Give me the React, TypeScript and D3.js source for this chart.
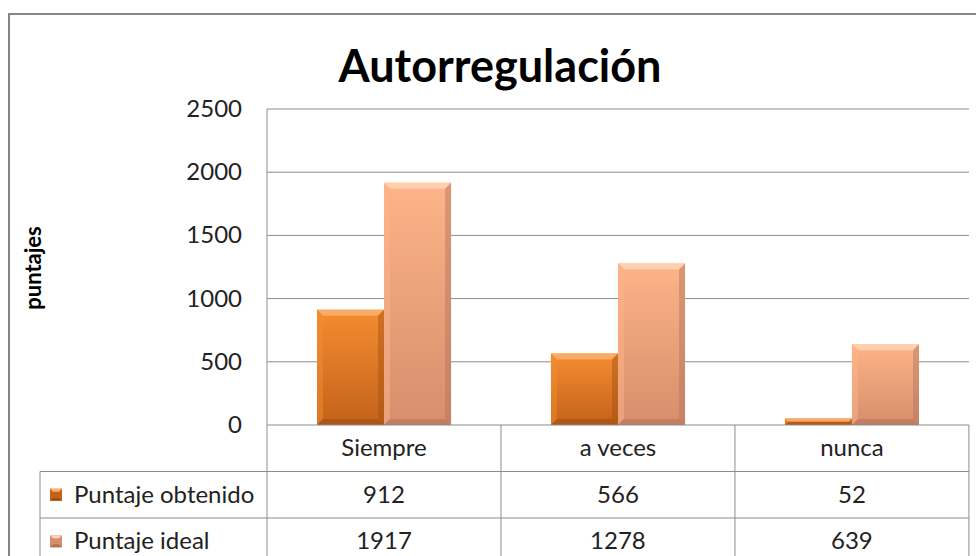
import React from "react";
import * as d3 from "d3";

const categories = ["Siempre", "a veces", "nunca"];
const seriesNames = ["Puntaje obtenido", "Puntaje ideal"];
const obtenido = [912, 566, 52];
const ideal = [1917, 1278, 639];
const yTicks = [0, 500, 1000, 1500, 2000, 2500];

const FONT = "Lato, 'Open Sans', sans-serif";

const palette = [
  { top: "#F48C30", bottom: "#C3621B", light: "#FAB070", dark: "#A24F12" },
  { top: "#FDB488", bottom: "#D68E6C", light: "#FFD3B5", dark: "#B2735A" },
];

const App = () => {
  const width = 976;
  const height = 556;
  const plot = { left: 267, right: 969, top: 109, bottom: 425 };
  const rowH = 46.5;

  const y = d3.scaleLinear().domain([0, 2500]).range([plot.bottom, plot.top]);
  const x = d3
    .scaleBand<string>()
    .domain(categories)
    .range([plot.left, plot.right])
    .paddingInner(0.427)
    .paddingOuter(0.2137);
  const xs = d3.scaleBand<string>().domain(seriesNames).range([0, x.bandwidth()]);

  const values = [obtenido, ideal];
  const step = x.step();
  const tableLeft = 40;

  const bevel = (bx: number, by: number, bw: number, bh: number, c: any, key: string) => {
    const b = Math.min(6, bh / 2, bw / 2);
    const x1 = bx + bw;
    const y1 = by + bh;
    return (
      <g key={key}>
        <rect x={bx} y={by} width={bw} height={bh} fill={`url(#grad${key[0]})`} />
        <polygon
          points={`${bx},${by} ${x1},${by} ${x1 - b},${by + b} ${bx + b},${by + b}`}
          fill={c.light}
          opacity={0.85}
        />
        <polygon
          points={`${bx},${by} ${bx + b},${by + b} ${bx + b},${y1 - b} ${bx},${y1}`}
          fill={c.top}
          opacity={0.5}
        />
        <polygon
          points={`${x1},${by} ${x1},${y1} ${x1 - b},${y1 - b} ${x1 - b},${by + b}`}
          fill={c.dark}
          opacity={0.45}
        />
        <polygon
          points={`${bx},${y1} ${x1},${y1} ${x1 - b},${y1 - b} ${bx + b},${y1 - b}`}
          fill={c.dark}
          opacity={0.6}
        />
      </g>
    );
  };

  const marker = (mx: number, my: number, c: any, i: number) => {
    const s = 12;
    const b = 3;
    return (
      <g key={`m${i}`}>
        <rect x={mx} y={my} width={s} height={s} fill={c.bottom} />
        <polygon
          points={`${mx},${my} ${mx + s},${my} ${mx + s - b},${my + b} ${mx + b},${my + b}`}
          fill={c.light}
        />
        <polygon
          points={`${mx},${my + s} ${mx + s},${my + s} ${mx + s - b},${my + s - b} ${mx + b},${my + s - b}`}
          fill={c.dark}
        />
      </g>
    );
  };

  return (
    <svg
      width={width}
      height={height}
      style={{ position: "absolute", left: 0, top: 0 }}
      fontFamily={FONT}
    >
      <defs>
        {palette.map((c, i) => (
          <linearGradient key={i} id={`grad${i}`} x1="0" y1="0" x2="0" y2="1">
            <stop offset="0%" stopColor={c.top} />
            <stop offset="100%" stopColor={c.bottom} />
          </linearGradient>
        ))}
      </defs>
      <rect x={0} y={0} width={width} height={height} fill="#fff" />
      <rect x={9} y={14} width={990} height={600} fill="#fff" stroke="#868686" strokeWidth={2} />

      <text x={500} y={82} textAnchor="middle" fontSize={45} fontWeight="bold" fill="#000">
        Autorregulación
      </text>

      <text
        transform={`translate(41,268) rotate(-90)`}
        textAnchor="middle"
        fontSize={22}
        fontWeight="bold"
        fill="#000"
      >
        puntajes
      </text>

      {yTicks.map((t) => (
        <g key={t}>
          {t > 0 && (
            <line x1={plot.left} x2={plot.right} y1={y(t)} y2={y(t)} stroke="#8c8c8c" strokeWidth={1} />
          )}
          <text x={242} y={y(t) + 8} textAnchor="end" fontSize={24} fill="#222">
            {t}
          </text>
        </g>
      ))}

      {categories.map((cat, ci) =>
        seriesNames.map((s, si) => {
          const v = values[si][ci];
          const bx = (x(cat) as number) + (xs(s) as number);
          const by = y(v);
          return bevel(bx, by, xs.bandwidth(), y(0) - by, palette[si], `${si}-${ci}`);
        })
      )}

      {/* axis and data table */}
      <line x1={plot.left} x2={plot.left} y1={plot.top} y2={height} stroke="#8c8c8c" />
      <line x1={plot.left} x2={plot.right} y1={plot.bottom} y2={plot.bottom} stroke="#8c8c8c" />
      {[1, 2].map((r) => (
        <line
          key={r}
          x1={tableLeft}
          x2={plot.right}
          y1={plot.bottom + r * rowH}
          y2={plot.bottom + r * rowH}
          stroke="#8c8c8c"
        />
      ))}
      <line x1={tableLeft} x2={tableLeft} y1={plot.bottom + rowH} y2={height} stroke="#8c8c8c" />
      {categories.map((cat, ci) => (
        <line
          key={cat}
          x1={plot.left + (ci + 1) * step}
          x2={plot.left + (ci + 1) * step}
          y1={plot.bottom}
          y2={height}
          stroke="#8c8c8c"
        />
      ))}

      {categories.map((cat, ci) => (
        <text
          key={cat}
          x={plot.left + (ci + 0.5) * step}
          y={plot.bottom + rowH / 2 + 8}
          textAnchor="middle"
          fontSize={24}
          fill="#222"
        >
          {cat}
        </text>
      ))}

      {seriesNames.map((s, si) => (
        <g key={s}>
          {marker(50, plot.bottom + (si + 1.5) * rowH - 6, palette[si], si)}
          <text x={74} y={plot.bottom + (si + 1.5) * rowH + 8} fontSize={24} fill="#222">
            {s}
          </text>
          {categories.map((cat, ci) => (
            <text
              key={cat}
              x={plot.left + (ci + 0.5) * step}
              y={plot.bottom + (si + 1.5) * rowH + 8}
              textAnchor="middle"
              fontSize={24}
              fill="#222"
            >
              {values[si][ci]}
            </text>
          ))}
        </g>
      ))}
    </svg>
  );
};

export default App;
